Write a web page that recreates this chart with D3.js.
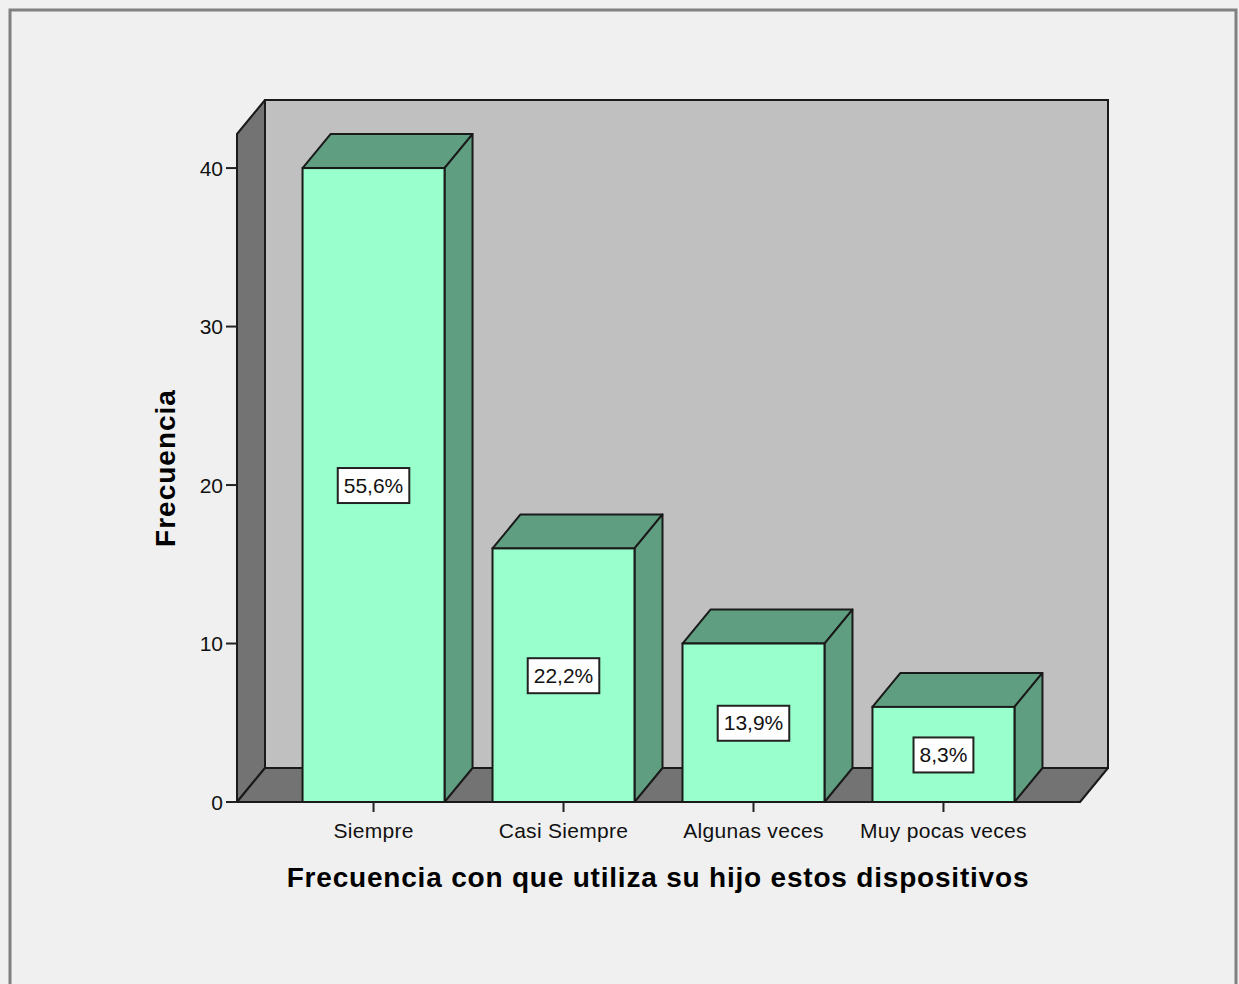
<!DOCTYPE html>
<html>
<head>
<meta charset="utf-8">
<script src="https://cdn.jsdelivr.net/npm/d3@7"></script>
<style>
  html, body { margin: 0; padding: 0; background: #f0f0f0; }
  svg { display: block; font-family: "Liberation Sans", Arial, sans-serif; }
</style>
</head>
<body>
<div id="chart"></div>
<script>
'use strict';

const categories = ['Siempre', 'Casi Siempre', 'Algunas veces', 'Muy pocas veces'];
const counts = [40, 16, 10, 6];
const percentLabels = ['55,6%', '22,2%', '13,9%', '8,3%'];
const yTicks = [0, 10, 20, 30, 40];

const width = 1239, height = 984;
const depthX = 28, depthY = -34;
const floorLeft = 237, floorRight = 1080, floorY = 802, wallTop = 134;

const svg = d3.select('#chart').append('svg')
    .attr('width', width).attr('height', height);

svg.append('rect').attr('width', width).attr('height', height).attr('fill', '#f0f0f0');
svg.append('rect')
    .attr('x', 10).attr('y', 10).attr('width', 1226).attr('height', 1000)
    .attr('fill', 'none').attr('stroke', '#808080').attr('stroke-width', 3);

const x = d3.scaleBand().domain(categories)
    .range([floorLeft, floorRight]).paddingInner(0.2526).paddingOuter(0.345);
const y = d3.scaleLinear().domain([0, 42.15]).range([floorY, wallTop]);

const line = d3.line();
const edge = '#1a1a1a';

// back wall
svg.append('rect')
    .attr('x', floorLeft + depthX).attr('y', wallTop + depthY)
    .attr('width', floorRight - floorLeft).attr('height', floorY - wallTop)
    .attr('fill', '#c0c0c0').attr('stroke', edge).attr('stroke-width', 2);

// left wall
svg.append('path')
    .attr('d', line([[floorLeft, wallTop], [floorLeft + depthX, wallTop + depthY],
        [floorLeft + depthX, floorY + depthY], [floorLeft, floorY]]) + 'Z')
    .attr('fill', '#737373').attr('stroke', edge).attr('stroke-width', 2).attr('stroke-linejoin', 'round');

// floor
svg.append('path')
    .attr('d', line([[floorLeft, floorY], [floorLeft + depthX, floorY + depthY],
        [floorRight + depthX, floorY + depthY], [floorRight, floorY]]) + 'Z')
    .attr('fill', '#737373').attr('stroke', edge).attr('stroke-width', 2).attr('stroke-linejoin', 'round');

// bars
const bars = svg.append('g').selectAll('g').data(categories).join('g');
bars.each(function (c, i) {
    const g = d3.select(this);
    const x0 = x(c), x1 = x(c) + x.bandwidth(), yt = y(counts[i]);
    g.append('path')
        .attr('d', line([[x0, yt], [x0 + depthX, yt + depthY], [x1 + depthX, yt + depthY], [x1, yt]]) + 'Z')
        .attr('fill', '#5f9e80').attr('stroke', edge).attr('stroke-width', 2).attr('stroke-linejoin', 'round');
    g.append('path')
        .attr('d', line([[x1, yt], [x1 + depthX, yt + depthY], [x1 + depthX, floorY + depthY], [x1, floorY]]) + 'Z')
        .attr('fill', '#5f9e80').attr('stroke', edge).attr('stroke-width', 2).attr('stroke-linejoin', 'round');
    g.append('rect')
        .attr('x', x0).attr('y', yt).attr('width', x.bandwidth()).attr('height', floorY - yt)
        .attr('fill', '#99ffcc').attr('stroke', edge).attr('stroke-width', 2);
});

// percentage labels
bars.each(function (c, i) {
    const g = d3.select(this);
    const cx = x(c) + x.bandwidth() / 2, cy = y(counts[i] / 2);
    const t = g.append('text')
        .attr('x', cx).attr('y', cy + 7.5)
        .attr('text-anchor', 'middle').attr('font-size', 21).attr('fill', '#111')
        .text(percentLabels[i]);
    const w = t.node().getComputedTextLength();
    g.insert('rect', 'text')
        .attr('x', cx - w / 2 - 6).attr('y', cy - 17).attr('width', w + 12).attr('height', 35)
        .attr('fill', '#ffffff').attr('stroke', '#222').attr('stroke-width', 2);
});

// y axis ticks
const yAxis = svg.append('g');
yAxis.selectAll('line').data(yTicks).join('line')
    .attr('x1', floorLeft - 11).attr('x2', floorLeft)
    .attr('y1', d => y(d)).attr('y2', d => y(d))
    .attr('stroke', '#222').attr('stroke-width', 2);
yAxis.selectAll('text').data(yTicks).join('text')
    .attr('x', floorLeft - 14).attr('y', d => y(d) + 7.5)
    .attr('text-anchor', 'end').attr('font-size', 21).attr('fill', '#111')
    .text(d => d);

// x axis ticks
const xAxis = svg.append('g');
xAxis.selectAll('line').data(categories).join('line')
    .attr('x1', d => x(d) + x.bandwidth() / 2).attr('x2', d => x(d) + x.bandwidth() / 2)
    .attr('y1', floorY).attr('y2', floorY + 10)
    .attr('stroke', '#222').attr('stroke-width', 2);
xAxis.selectAll('text').data(categories).join('text')
    .attr('x', d => x(d) + x.bandwidth() / 2).attr('y', floorY + 36)
    .attr('text-anchor', 'middle').attr('font-size', 21).attr('letter-spacing', 0.3).attr('fill', '#111')
    .text(d => d);

// axis titles
svg.append('text')
    .attr('x', 658).attr('y', 887)
    .attr('text-anchor', 'middle').attr('font-size', 28).attr('font-weight', 'bold')
    .attr('letter-spacing', 0.8).attr('fill', '#000')
    .text('Frecuencia con que utiliza su hijo estos dispositivos');
svg.append('text')
    .attr('transform', 'translate(175,468) rotate(-90)')
    .attr('text-anchor', 'middle').attr('font-size', 28).attr('font-weight', 'bold')
    .attr('letter-spacing', 1).attr('fill', '#000')
    .text('Frecuencia');
</script>
</body>
</html>
